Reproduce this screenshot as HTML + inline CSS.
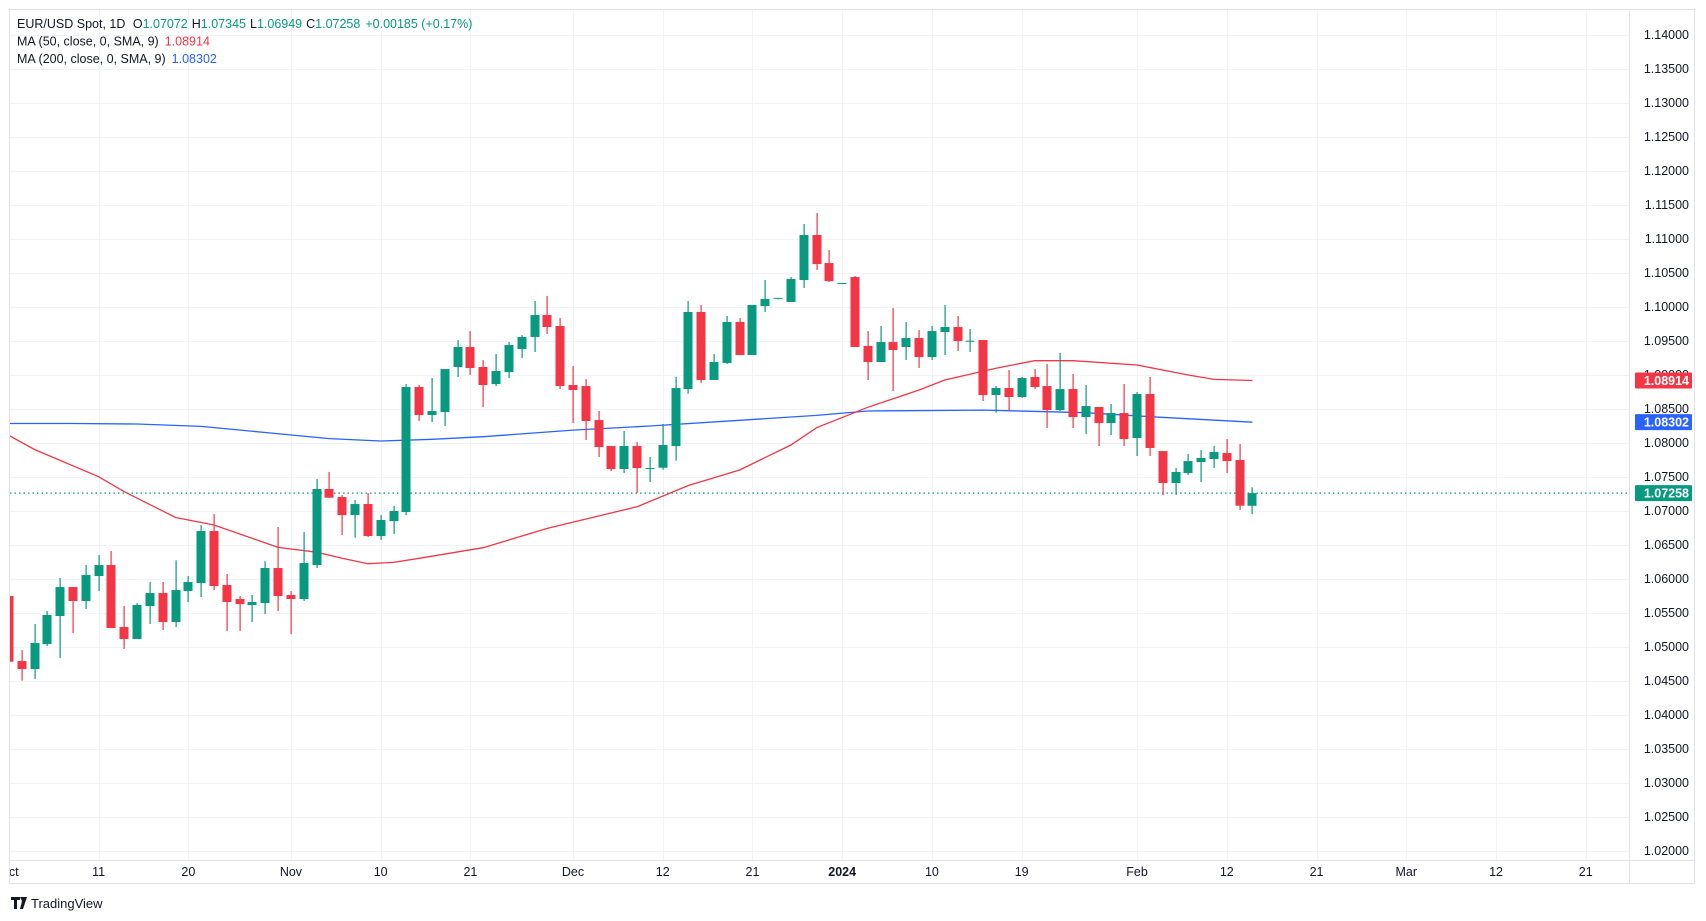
<!DOCTYPE html>
<html><head><meta charset="utf-8">
<style>
html,body{margin:0;padding:0;background:#fff;width:1706px;height:921px;overflow:hidden;font-family:"Liberation Sans",sans-serif;}
svg{display:block}
text{font-family:"Liberation Sans",sans-serif;}
</style></head>
<body>
<svg id="chart" width="1706" height="921" viewBox="0 0 1706 921" xmlns="http://www.w3.org/2000/svg">
<defs><clipPath id="paneClip"><rect x="10" y="10" width="1619" height="850"/></clipPath></defs>
<rect x="9.5" y="9.5" width="1685" height="874" fill="#fff" stroke="#e0e3eb"/>
<line x1="1629.5" y1="10" x2="1629.5" y2="883" stroke="#e0e3eb"/>
<line x1="10" y1="860.5" x2="1694" y2="860.5" stroke="#e0e3eb"/>
<g id="grid"></g>
<g id="yticks"></g>
<g id="xticks"></g>
<g id="mas" clip-path="url(#paneClip)"></g>
<g id="candles" clip-path="url(#paneClip)"></g>
<g id="labels"></g>
<g font-size="12.5" fill="#131722">
<text x="17" y="28">EUR/USD Spot, 1D <tspan dx="4">O</tspan><tspan fill="#089981">1.07072</tspan><tspan dx="4">H</tspan><tspan fill="#089981">1.07345</tspan><tspan dx="4">L</tspan><tspan fill="#089981">1.06949</tspan><tspan dx="4">C</tspan><tspan fill="#089981">1.07258</tspan><tspan dx="5" fill="#089981">+0.00185 (+0.17%)</tspan></text>
<text x="17" y="45.5">MA (50, close, 0, SMA, 9)<tspan dx="6" fill="#f23645">1.08914</tspan></text>
<text x="17" y="63">MA (200, close, 0, SMA, 9)<tspan dx="6" fill="#2962ff">1.08302</tspan></text>
</g>
<g>
<path d="M11 897h9v3h-3v9h-3v-9h-3z M20 897h3l-1 4z M23 897h4l-4 12h-3z" fill="#131722"/>
<text x="31" y="908" font-size="13" fill="#131722">TradingView</text>
</g>
</svg>
<script>
const opens =[1.05745,1.04789,1.04672,1.05039,1.05451,1.05877,1.05672,1.06039,1.06201,1.05289,1.05113,1.05598,1.05789,1.05363,1.05819,1.05936,1.06701,1.05907,1.05701,1.05613,1.05642,1.06157,1.0576,1.05701,1.06201,1.07319,1.07201,1.06936,1.07098,1.06627,1.06848,1.0698,1.08819,1.08407,1.08451,1.09113,1.09407,1.09113,1.08863,1.09039,1.09377,1.09554,1.09877,1.09716,1.08848,1.08833,1.08333,1.07951,1.07613,1.07951,1.07613,1.07632,1.07951,1.08789,1.09922,1.08922,1.09172,1.09775,1.09289,1.1001,1.1012,1.10069,1.10392,1.11054,1.10642,1.10343,1.10436,1.09422,1.09186,1.0948,1.09407,1.09539,1.0926,1.09627,1.09701,1.09485,1.0951,1.08701,1.08804,1.08672,1.08966,1.08833,1.0848,1.08789,1.08377,1.08525,1.08289,1.08436,1.08069,1.08716,1.07877,1.07407,1.07554,1.07716,1.0776,1.07848,1.07745,1.07072];
const highs =[1.05745,1.04951,1.05333,1.05525,1.0601,1.05877,1.06201,1.06348,1.06407,1.05598,1.05642,1.05951,1.05951,1.0627,1.06039,1.06789,1.06951,1.06069,1.05745,1.0576,1.06258,1.0676,1.05819,1.06686,1.07466,1.07569,1.0723,1.07157,1.0726,1.06936,1.07069,1.08863,1.08848,1.08951,1.09083,1.0951,1.09642,1.09216,1.09304,1.0948,1.09583,1.10083,1.10157,1.09833,1.09127,1.08936,1.08466,1.07951,1.08172,1.0801,1.07789,1.08275,1.08966,1.10083,1.10025,1.09304,1.09863,1.09833,1.10025,1.10392,1.10123,1.10436,1.11216,1.11377,1.10833,1.10348,1.10451,1.09642,1.09716,1.0998,1.09775,1.09657,1.09716,1.10025,1.09863,1.09672,1.0951,1.08833,1.09069,1.08966,1.09083,1.09157,1.09319,1.0901,1.08848,1.08525,1.08569,1.08863,1.08745,1.08966,1.07877,1.07627,1.07833,1.07892,1.07951,1.08054,1.0798,1.07345];
const lows  =[1.04779,1.045,1.04525,1.0501,1.04833,1.05201,1.05554,1.05819,1.05275,1.04966,1.05113,1.05333,1.05245,1.05289,1.05657,1.0573,1.05833,1.0523,1.0523,1.05363,1.0548,1.05525,1.05186,1.05672,1.06157,1.07191,1.06642,1.06603,1.06613,1.06569,1.06657,1.06936,1.08319,1.08304,1.08245,1.08966,1.08995,1.08525,1.08833,1.0895,1.09245,1.09333,1.09598,1.08789,1.08289,1.08039,1.07789,1.07583,1.07554,1.0726,1.07422,1.07603,1.07735,1.0872,1.08877,1.08922,1.09157,1.09289,1.09289,1.09922,1.10118,1.10069,1.10275,1.10539,1.10363,1.10338,1.09407,1.08922,1.09186,1.0876,1.09216,1.09098,1.09216,1.09289,1.09348,1.09333,1.08613,1.08441,1.08466,1.08657,1.08789,1.08216,1.08466,1.08216,1.08127,1.07951,1.08113,1.07951,1.07804,1.07804,1.0723,1.0723,1.07525,1.07422,1.07627,1.07554,1.0701,1.06949];
const closes=[1.04779,1.04672,1.05054,1.05466,1.05877,1.05672,1.06054,1.06201,1.05275,1.05113,1.05613,1.05789,1.05363,1.05833,1.05951,1.06701,1.05892,1.05657,1.05628,1.05657,1.06157,1.05745,1.05701,1.0623,1.07319,1.07191,1.06936,1.07098,1.06627,1.06863,1.06995,1.08819,1.08407,1.08466,1.09083,1.09407,1.09098,1.08848,1.09054,1.09436,1.09554,1.09877,1.09701,1.08833,1.08775,1.08319,1.07936,1.07613,1.07951,1.07627,1.07627,1.07966,1.08804,1.09922,1.08922,1.09186,1.09775,1.09289,1.10025,1.10113,1.1013,1.10407,1.11054,1.10627,1.10377,1.10348,1.09407,1.09186,1.0948,1.09363,1.09539,1.0926,1.09642,1.09701,1.09495,1.095,1.08701,1.08804,1.08672,1.08951,1.08819,1.0848,1.08789,1.08377,1.08539,1.08289,1.08436,1.08054,1.08716,1.07922,1.07407,1.07569,1.0773,1.07775,1.07863,1.0773,1.07074,1.07258];
const ma50Idx =[0,2,7,9,13,16,21,24,26,28,30,32,37,42,49,53,57,61,63,67,71,73,77,80,83,88,92,94,97];
const ma50Val =[1.08107,1.0790,1.075,1.0728,1.0690,1.0679,1.0646,1.0639,1.0630,1.0622,1.0624,1.0630,1.06456,1.0674,1.07059,1.0737,1.07598,1.07966,1.0822,1.0852,1.08775,1.08922,1.09095,1.09206,1.09206,1.09142,1.08995,1.08931,1.08914];
const ma200Idx=[0,5,10,15,20,25,29,33,37,44,50,57,63,67,76,84,89,97];
const ma200Val=[1.08283,1.08283,1.08275,1.0824,1.0815,1.0806,1.08025,1.0805,1.08088,1.08186,1.08245,1.0833,1.08402,1.08466,1.0848,1.08441,1.08382,1.08302];
const priceTicks=[1.02,1.025,1.03,1.035,1.04,1.045,1.05,1.055,1.06,1.065,1.07,1.075,1.08,1.085,1.09,1.095,1.10,1.105,1.11,1.115,1.12,1.125,1.13,1.135,1.14];
const dateIdx =[0,7,14,22,29,36,44,51,58,65,72,79,88,95,102,109,116,123];
const dateLbl =["Oct","11","20","Nov","10","21","Dec","12","21","2024","10","19","Feb","12","21","Mar","12","21"];
const lastClose=1.07258, ma50Last=1.08914, ma200Last=1.08302;

const NS="http://www.w3.org/2000/svg";
function y(p){return 476.7+(1.075-p)*6800;}
function x(i){return 8.9+i*12.82;}
function mk(tag,attrs,parent){const e=document.createElementNS(NS,tag);for(const k in attrs)e.setAttribute(k,attrs[k]);parent.appendChild(e);return e;}
const grid=document.getElementById('grid'),yt=document.getElementById('yticks'),xt=document.getElementById('xticks');
priceTicks.forEach(p=>{
  const l=mk('line',{x1:10,x2:1629,y1:Math.round(y(p))+0.5,y2:Math.round(y(p))+0.5,stroke:'#f0f3fa'},grid);
  
  
  const t=mk('text',{x:1689,y:y(p)+4.5,'text-anchor':'end','font-size':'12.5',fill:'#131722'},yt);
  t.textContent=p.toFixed(5);
  
  
});
dateIdx.forEach((d,k)=>{
  const xx=Math.round(x(d))+0.5;
  if(xx>10){const l=mk('line',{x1:xx,x2:xx,y1:10,y2:860,stroke:'#f0f3fa'},grid);
  
  }
  const t=mk('text',{x:x(d),y:876,'text-anchor':'middle','font-size':'12.5',fill:'#131722','clip-path':'url(#paneClip2)'},xt);
  t.textContent=dateLbl[k];
  if(dateLbl[k]==='2024')t.setAttribute('font-weight','bold');
  
  
});
// clip for time labels
const defs=document.querySelector('defs');
const cp=mk('clipPath',{id:'paneClip2'},defs);mk('rect',{x:10,y:860,width:1619,height:24},cp);

const mas=document.getElementById('mas');
function line(idx,val,color,name){
  const pts=idx.map((d,k)=>x(d).toFixed(1)+','+y(val[k]).toFixed(1)).join(' ');
  const pl=mk('polyline',{points:pts,fill:'none',stroke:color,'stroke-width':1.3},mas);
  
  
}
line(ma200Idx,ma200Val,'#2962ff','ma200-line');
line(ma50Idx,ma50Val,'#f23645','ma50-line');
const dl=mk('line',{x1:10,x2:1629,y1:y(lastClose),y2:y(lastClose),stroke:'#089981','stroke-dasharray':'1.5 3','stroke-width':1.2},mas);



const cg=document.getElementById('candles');
opens.forEach((o,i)=>{
  const c=closes[i],col=c>=o?'#089981':'#f23645',cx=Math.round(x(i));
  const w=mk('rect',{x:cx-0.5,y:y(highs[i]),width:1.2,height:Math.max(1,y(lows[i])-y(highs[i])),fill:col},cg);
  
  
  const top=y(Math.max(o,c)),h=Math.max(1,Math.abs(y(o)-y(c)));
  const b=mk('rect',{x:cx-4.5,y:top,width:9,height:h,fill:col},cg);
  
  
});

const lg=document.getElementById('labels');
[[ma50Last,'#f23645','ma50-price-label'],[ma200Last,'#2962ff','ma200-price-label'],[lastClose,'#089981','last-price-label']].forEach(a=>{
  const r=mk('rect',{x:1635,y:y(a[0])-8,width:57,height:16,fill:a[1],rx:1},lg);
  
  
  const t=mk('text',{x:1689,y:y(a[0])+4.5,'text-anchor':'end','font-size':'12.5','font-weight':'bold',fill:'#fff'},lg);
  t.textContent=a[0].toFixed(5);
  
  
});
</script>
</body></html>
